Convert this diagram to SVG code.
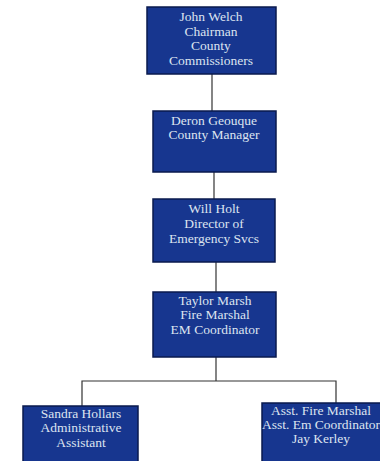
<svg xmlns="http://www.w3.org/2000/svg" width="380" height="461" viewBox="0 0 380 461">
<style>
.box{fill:#17368f;stroke:#0a1a4e;stroke-width:1.5}
.t{font-family:"Liberation Serif","Times New Roman",serif;font-size:13.5px;fill:#dde4ef;text-anchor:middle}
.c{fill:none;stroke:#333;stroke-width:1.2}
</style>
<rect width="380" height="461" fill="#ffffff"/>
<g id="connectors">
<line class="c" x1="212" y1="74" x2="212" y2="111"/>
<line class="c" x1="214" y1="172" x2="214" y2="199"/>
<line class="c" x1="216" y1="262" x2="216" y2="292"/>
<line class="c" x1="216" y1="357" x2="216" y2="381"/>
<polyline class="c" points="82,406 82,381 336,381 336,403"/>
</g>
<g id="n1">
<rect class="box" x="147" y="7" width="129" height="67"/>
<text class="t" x="211" y="21">John Welch</text>
<text class="t" x="211" y="35.5">Chairman</text>
<text class="t" x="211" y="50">County</text>
<text class="t" x="211" y="65">Commissioners</text>
</g>
<g id="n2">
<rect class="box" x="153" y="111" width="123" height="61"/>
<text class="t" x="214" y="125">Deron Geouque</text>
<text class="t" x="214" y="139">County Manager</text>
</g>
<g id="n3">
<rect class="box" x="153" y="199" width="122" height="63"/>
<text class="t" x="214" y="213">Will Holt</text>
<text class="t" x="214" y="228">Director of</text>
<text class="t" x="214" y="243">Emergency Svcs</text>
</g>
<g id="n4">
<rect class="box" x="153" y="292" width="123" height="65"/>
<text class="t" x="215" y="305">Taylor Marsh</text>
<text class="t" x="215" y="319">Fire Marshal</text>
<text class="t" x="215" y="334">EM Coordinator</text>
</g>
<g id="n5">
<rect class="box" x="23" y="406" width="115" height="60"/>
<text class="t" x="81" y="418">Sandra Hollars</text>
<text class="t" x="81" y="432">Administrative</text>
<text class="t" x="81" y="447">Assistant</text>
</g>
<g id="n6">
<rect class="box" x="262" y="403" width="125" height="63"/>
<text class="t" x="321" y="415">Asst. Fire Marshal</text>
<text class="t" x="321" y="429">Asst. Em Coordinator</text>
<text class="t" x="321" y="443">Jay Kerley</text>
</g>
</svg>
